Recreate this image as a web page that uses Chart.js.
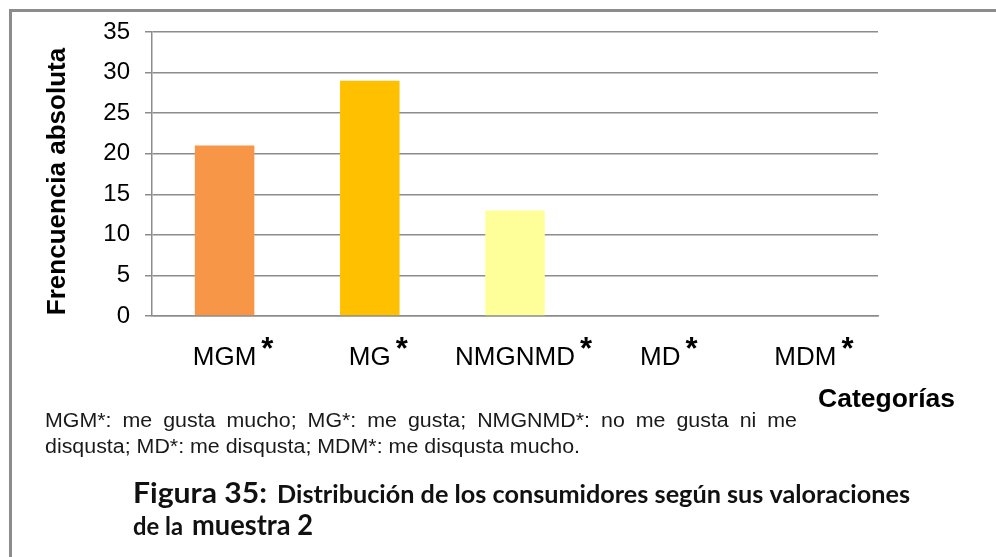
<!DOCTYPE html>
<html>
<head>
<meta charset="utf-8">
<script src="https://cdn.jsdelivr.net/npm/chart.js@4/dist/chart.umd.min.js"></script>
<style>
  html, body { margin: 0; padding: 0; background: #fff; }
  #wrap { position: relative; width: 996px; height: 557px; }
  canvas { display: block; }
</style>
</head>
<body>
<div id="wrap"><canvas id="c" width="996" height="557"></canvas></div>
<script>
// ---- data ----
const categories = ["MGM", "MG", "NMGNMD", "MD", "MDM"];
const frequencies = [21, 29, 13, 0, 0];
const barColors = ["#F79646", "#FFC000", "#FFFF99", "#FFFF99", "#FFFF99"];
const yTicks = [0, 5, 10, 15, 20, 25, 30, 35];
const yTitle = "Frencuencia absoluta";
const xTitle = "Categorías";
const footnoteLines = [
  "MGM*: me gusta mucho; MG*: me gusta; NMGNMD*: no me gusta ni me",
  "disqusta; MD*: me disqusta; MDM*: me disqusta mucho."
];
const captionLabel = "Figura 35:";
const captionText = "Distribución de los consumidores según sus valoraciones";
const captionLine2a = "de la";
const captionLine2b = "muestra 2";

// ---- helpers ----
function fitText(ctx, text, x, y, w) {
  const m = ctx.measureText(text).width;
  ctx.save();
  ctx.translate(x, y);
  ctx.scale(w / m, 1);
  ctx.fillText(text, 0, 0);
  ctx.restore();
}
function justifyText(ctx, text, x, y, w, sx) {
  const words = text.split(" ");
  const widths = words.map(t => ctx.measureText(t).width * sx);
  const total = widths.reduce((a, b) => a + b, 0);
  const gap = (w - total) / (words.length - 1);
  let cx = x;
  words.forEach((t, i) => {
    ctx.save();
    ctx.translate(cx, y);
    ctx.scale(sx, 1);
    ctx.fillText(t, 0, 0);
    ctx.restore();
    cx += widths[i] + gap;
  });
}

const decor = {
  id: "decor",
  beforeDraw(chart) {
    const ctx = chart.ctx;
    ctx.save();
    ctx.fillStyle = "#fff";
    ctx.fillRect(0, 0, chart.width, chart.height);
    ctx.strokeStyle = "#8c8c8c";
    ctx.lineWidth = 3;
    ctx.beginPath();
    ctx.moveTo(10.5, 557);
    ctx.lineTo(10.5, 10.5);
    ctx.lineTo(996, 10.5);
    ctx.stroke();
    ctx.restore();
  },
  afterDraw(chart) {
    const ctx = chart.ctx;
    const xs = chart.scales.x;
    ctx.save();
    ctx.fillStyle = "#000";
    // category labels with superscript asterisks
    categories.forEach((lab, i) => {
      const cx = xs.getPixelForValue(i);
      ctx.font = "26px 'Liberation Sans', Arial, sans-serif";
      ctx.textAlign = "center";
      ctx.textBaseline = "alphabetic";
      ctx.fillText(lab, cx, 365);
      const w = ctx.measureText(lab).width;
      ctx.font = "bold 31px 'Liberation Sans', Arial, sans-serif";
      ctx.textAlign = "left";
      ctx.fillText("*", cx + w / 2 + 5, 359);
    });
    // y title
    ctx.save();
    ctx.translate(65, 181.5);
    ctx.rotate(-Math.PI / 2);
    ctx.font = "bold 26px 'Liberation Sans', Arial, sans-serif";
    ctx.textAlign = "center";
    ctx.textBaseline = "alphabetic";
    ctx.fillText(yTitle, 0, 0);
    ctx.restore();
    // x title
    ctx.font = "bold 25px 'Liberation Sans', Arial, sans-serif";
    ctx.textAlign = "left";
    fitText(ctx, xTitle, 818, 407, 137);
    // footnote
    ctx.fillStyle = "#1a1a1a";
    ctx.font = "20px 'Liberation Sans', Arial, sans-serif";
    const m2 = ctx.measureText(footnoteLines[1]).width;
    const sx = 535 / m2;
    justifyText(ctx, footnoteLines[0], 45, 427, 752, sx);
    fitText(ctx, footnoteLines[1], 45, 453, 535);
    // caption
    ctx.fillStyle = "#111";
    ctx.font = "bold 29px Lato, 'Open Sans', sans-serif";
    fitText(ctx, captionLabel, 133, 503, 134);
    ctx.font = "bold 25px Lato, 'Open Sans', sans-serif";
    fitText(ctx, captionText, 277, 503, 633);
    ctx.font = "bold 25px Lato, 'Open Sans', sans-serif";
    fitText(ctx, captionLine2a, 133, 535, 50);
    ctx.font = "bold 29px Lato, 'Open Sans', sans-serif";
    fitText(ctx, captionLine2b, 192, 535, 121);
    ctx.restore();
  }
};

new Chart(document.getElementById("c"), {
  type: "bar",
  data: {
    labels: categories,
    datasets: [{
      data: frequencies,
      backgroundColor: barColors,
      borderWidth: 0,
      categoryPercentage: 1.0,
      barPercentage: 0.41
    }]
  },
  options: {
    responsive: false,
    devicePixelRatio: 1,
    animation: false,
    plugins: { legend: { display: false }, tooltip: { enabled: false } },
    layout: { padding: { left: 0, top: 32, right: 118, bottom: 0 } },
    scales: {
      x: {
        grid: { display: false },
        border: { display: true, color: "#8c8c8c", width: 1.5 },
        ticks: { display: false },
        afterFit(scale) { scale.height = 241; }
      },
      y: {
        min: 0,
        max: 35,
        afterBuildTicks(scale) { scale.ticks = yTicks.map(v => ({ value: v })); },
        ticks: {
          color: "#000",
          padding: 15,
          font: { family: "'Liberation Sans', Arial, sans-serif", size: 24 }
        },
        grid: { color: "#8c8c8c", lineWidth: 1.5, tickLength: 7 },
        border: { display: true, color: "#8c8c8c", width: 1.5 },
        afterFit(scale) { scale.width = 152; }
      }
    }
  },
  plugins: [decor]
});
</script>
</body>
</html>
